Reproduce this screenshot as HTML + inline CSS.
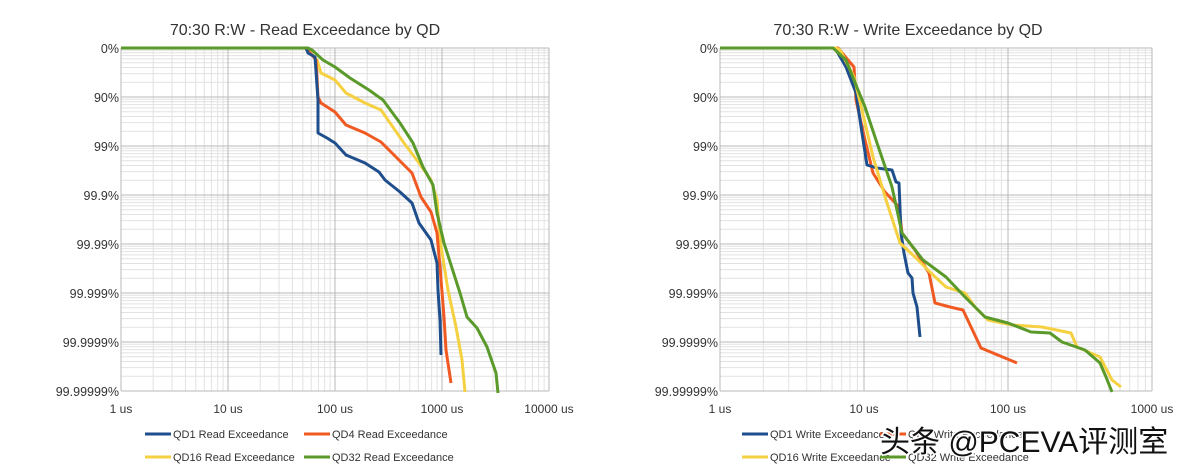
<!DOCTYPE html>
<html><head><meta charset="utf-8"><style>
body{margin:0;background:#fff;width:1200px;height:476px;overflow:hidden}
svg{display:block}
text{font-family:"Liberation Sans",sans-serif;fill:#333}
</style></head><body>
<svg id="s" width="1200" height="476" xmlns="http://www.w3.org/2000/svg">
<text x="305" y="35" font-size="16" text-anchor="middle" fill="#222">70:30 R:W - Read Exceedance by QD</text>
<text x="908" y="35" font-size="16" text-anchor="middle" fill="#222">70:30 R:W - Write Exceedance by QD</text>
<g id="g"></g>
</svg>
<script>
const NS="http://www.w3.org/2000/svg",g=document.getElementById('g');
function el(t,a,txt){const e=document.createElementNS(NS,t);for(const k in a)e.setAttribute(k,a[k]);if(txt)e.textContent=txt;g.appendChild(e);return e;}
const Y0=48,DY=49,levels=["0%","90%","99%","99.9%","99.99%","99.999%","99.9999%","99.99999%"];
function chart(x0,dec,nd,labels){
  const x1=x0+dec*nd, yb=Y0+DY*7;
  for(let k=0;k<7;k++)for(let m=2;m<=9;m++){const y=Y0+DY*(k+1-Math.log10(m));el('line',{x1:x0,x2:x1,y1:y,y2:y,stroke:'#e2e2e2','stroke-width':1});}
  for(let d=0;d<nd;d++)for(let m=2;m<=9;m++){const x=x0+dec*(d+Math.log10(m));el('line',{x1:x,x2:x,y1:Y0,y2:yb,stroke:'#e2e2e2','stroke-width':1});}
  for(let k=0;k<=7;k++){const y=Y0+DY*k;el('line',{x1:x0,x2:x1,y1:y,y2:y,stroke:'#b8b8b8','stroke-width':1});
    el('text',{x:x0-2,y:y+5,'font-size':12.5,'text-anchor':'end'},levels[k]);}
  for(let d=0;d<=nd;d++){const x=x0+dec*d;el('line',{x1:x,x2:x,y1:Y0,y2:yb,stroke:'#b8b8b8','stroke-width':1});
    el('text',{x:x,y:yb+22,'font-size':12,'text-anchor':'middle'},labels[d]);}
}
chart(121,107,4,["1 us","10 us","100 us","1000 us","10000 us"]);
chart(720,144,3,["1 us","10 us","100 us","1000 us"]);
const C={b:'#1f4e8c',r:'#f05a22',y:'#f5d040',gr:'#5a9a2a'};
function line(c,pts){el('polyline',{points:pts,fill:'none',stroke:c,'stroke-width':3,'stroke-linejoin':'round'});}
line(C.y,"121,48 306,48 308,50 317,60 321,73 335,80 346,93 365,103 381,110 404,143 419,163 431,180 437,200 440,240 448,290 456,327 462,360 465,392");
line(C.r,"121,48 305,48 312,55 316,60 318,97 321,103 335,112 346,125 365,133 381,142 392,153 412,173 421,197 431,212 437,233 440,267 444,317 446,350 451,383");
line(C.b,"121,48 306,48 308,53 315,57 318,100 318,133 327,138 335,143 346,155 365,163 379,172 385,180 400,192 412,203 419,223 431,240 437,263 438,290 440,320 441,355");
line(C.gr,"121,48 308,48 312,50 323,60 335,67 350,78 369,90 383,100 400,123 413,143 423,167 433,185 437,213 444,243 460,293 467,317 477,328 487,347 496,373 498,393");
line(C.r,"720,48 838,48 848,60 854,67 856,100 865,140 873,173 885,192 899,207 902,233 915,250 929,273 935,303 950,307 963,310 981,348 1017,363");
line(C.b,"720,48 835,48 846,67 856,93 862,133 867,165 877,168 892,170 896,182 899,183 901,233 904,253 908,273 912,278 913,293 917,307 920,337");
line(C.y,"720,48 836,48 840,50 854,77 862,110 873,157 887,203 900,243 915,257 931,273 946,287 965,293 975,307 988,320 1012,325 1042,327 1071,333 1077,347 1100,357 1112,380 1121,387");
line(C.gr,"720,48 833,48 846,60 854,80 865,107 877,143 892,187 902,233 923,260 946,277 965,297 985,317 1008,323 1031,332 1050,333 1062,342 1085,350 1100,363 1106,377 1112,392");
function leg(x,y,c,t){el('line',{x1:x,x2:x+26,y1:y,y2:y,stroke:c,'stroke-width':3});el('text',{x:x+28,y:y+4,'font-size':11},t);}
leg(145,434,C.b,"QD1 Read Exceedance");leg(304,434,C.r,"QD4 Read Exceedance");
leg(145,457,C.y,"QD16 Read Exceedance");leg(304,457,C.gr,"QD32 Read Exceedance");
leg(742,434,C.b,"QD1 Write Exceedance");leg(880,434,C.r,"QD4 Write Exceedance");
leg(742,457,C.y,"QD16 Write Exceedance");leg(880,457,C.gr,"QD32 Write Exceedance");
const w=el('text',{x:880,y:452,'font-size':30,'stroke':'#fff','stroke-width':3,'paint-order':'stroke',style:'font-family:"Liberation Sans","Noto Sans CJK SC",sans-serif;fill:#111'},"头条 @PCEVA评测室");
</script>
</body></html>
